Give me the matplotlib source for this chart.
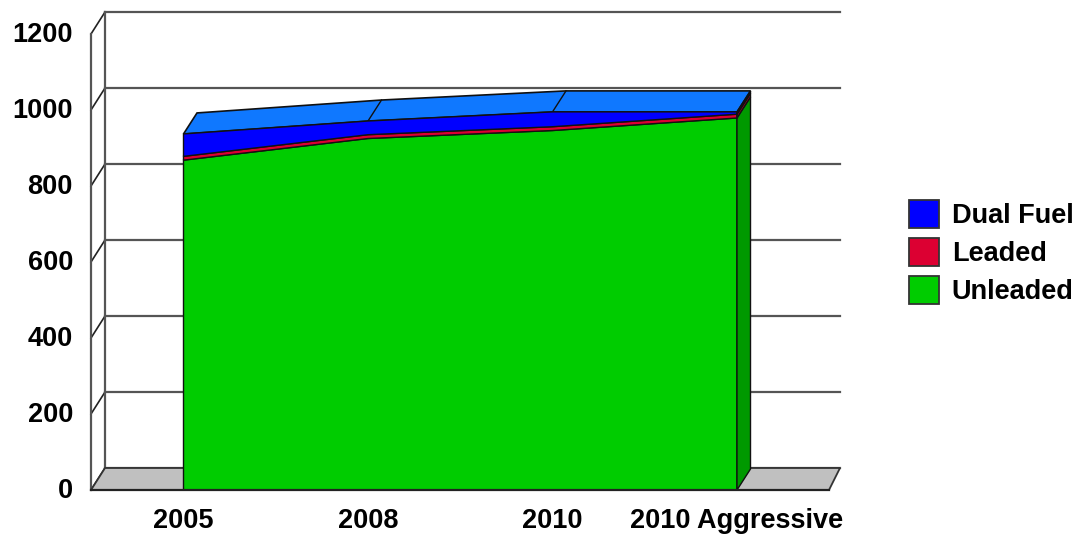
import matplotlib
matplotlib.use("Agg")
import matplotlib.pyplot as plt
from matplotlib.patches import Polygon, Patch
from matplotlib.transforms import ScaledTranslation
import numpy as np

categories = ["2005", "2008", "2010", "2010 Aggressive"]
unleaded = [868, 925, 946, 979]
leaded = [10, 10, 10, 10]
dual_fuel = [59, 36, 39, 6]
y_ticks = [0, 200, 400, 600, 800, 1000, 1200]

W, H = 1079, 535
plt.rcParams["font.family"] = ["Liberation Sans", "DejaVu Sans"]
plt.rcParams["font.weight"] = "bold"
fig = plt.figure(figsize=(W / 100, H / 100), dpi=100)

L, R, T, B = 91, 841, 12, 490
ax = fig.add_axes([L / W, 1 - B / H, (R - L) / W, (B - T) / H])
PX_X = 184.5      # pixels per category
PX_Y = 0.38       # pixels per unit
ax.set_xlim((L - 183.5) / PX_X, (R - 183.5) / PX_X)
ax.set_ylim(0, (B - T) / PX_Y)
DX = 13.5 / PX_X  # depth offset
DY = 21 / PX_Y

GRID = "#555555"
EDGE = "#111111"
FS = 19.5

def px(x, y):
    return ((x - 183.5) / PX_X, (B - y) / PX_Y)

# back wall, grid
for t in y_ticks:
    x0, y0 = px(91, B - t * PX_Y)
    x1, y1 = px(105, B - t * PX_Y - 22)
    x2, _ = px(840, 0)
    ax.plot([x0, x1], [y0, y1], color="#222222", lw=1.2, zorder=1, clip_on=False)
    ax.plot([x1, x2], [y1, y1], color=GRID, lw=1.6, zorder=1, clip_on=False)
for xp, (y0, y1) in {91: (490, 34), 105: (468, 12)}.items():
    ax.plot([px(xp, 0)[0]] * 2, [px(0, y0)[1], px(0, y1)[1]], color=GRID, lw=1.6, zorder=1, clip_on=False)

# floor
floor = [px(91, 490), px(829, 490), px(840, 468), px(105, 468)]
ax.add_patch(Polygon(floor, closed=True, fc="#C0C0C0", ec="#333333", lw=1.3, zorder=2, clip_on=False))

x = np.arange(len(categories), dtype=float)
s1 = np.array(unleaded, dtype=float)
s2 = s1 + np.array(leaded)
s3 = s2 + np.array(dual_fuel)

# top surface
top = list(zip(x, s3)) + list(zip(x[::-1] + DX, s3[::-1] + DY))
ax.add_patch(Polygon(top, closed=True, fc="#0F78FF", ec=EDGE, lw=1.2, zorder=3, clip_on=False))
for xi, yi in zip(x[1:-1], s3[1:-1]):
    ax.plot([xi, xi + DX], [yi, yi + DY], color=EDGE, lw=1, zorder=3.5)

# front faces and right side faces
layers = [(np.zeros(4), s1, "#00CC00", "#009900"),
          (s1, s2, "#DC0032", "#A00028"),
          (s2, s3, "#0000FF", "#0000AA")]
for lo, hi, c, side in layers:
    front = list(zip(x, hi)) + list(zip(x[::-1], lo[::-1]))
    ax.add_patch(Polygon(front, closed=True, fc=c, ec=EDGE, lw=1.0, zorder=4, clip_on=False))
    sd = [(x[-1], lo[-1]), (x[-1], hi[-1]), (x[-1] + DX, hi[-1] + DY), (x[-1] + DX, lo[-1] + DY)]
    ax.add_patch(Polygon(sd, closed=True, fc=side, ec=EDGE, lw=1.0, zorder=4, clip_on=False))

# front baseline
ax.plot([px(91, 0)[0], px(829, 0)[0]], [0, 0], color="#222222", lw=1.6, zorder=5, clip_on=False)

for s in ax.spines.values():
    s.set_visible(False)
ax.patch.set_alpha(0)
ax.set_xticks(x)
ax.set_xticklabels(categories, fontsize=FS, fontweight="bold")
ax.set_yticks(y_ticks)
ax.set_yticklabels([str(t) for t in y_ticks], fontsize=FS, fontweight="bold")
ax.tick_params(axis="both", length=0)
ax.tick_params(axis="x", pad=13)
ax.tick_params(axis="y", pad=13)
off = ScaledTranslation(0, 2.5 / 100, fig.dpi_scale_trans)
for lb in ax.get_yticklabels():
    lb.set_transform(lb.get_transform() + off)

handles = [Patch(fc="#0000FF", ec="#333333", lw=1.3, label="Dual Fuel"),
           Patch(fc="#DC0032", ec="#333333", lw=1.3, label="Leaded"),
           Patch(fc="#00CC00", ec="#333333", lw=1.3, label="Unleaded")]
fig.legend(handles=handles, loc="upper left", bbox_to_anchor=(909 / W, 1 - 199.5 / H),
           frameon=False, fontsize=FS, handlelength=1.1, handleheight=1.214,
           handletextpad=0.48, labelspacing=0.335, borderpad=0, borderaxespad=0)

fig.savefig("out.png", dpi=100)
